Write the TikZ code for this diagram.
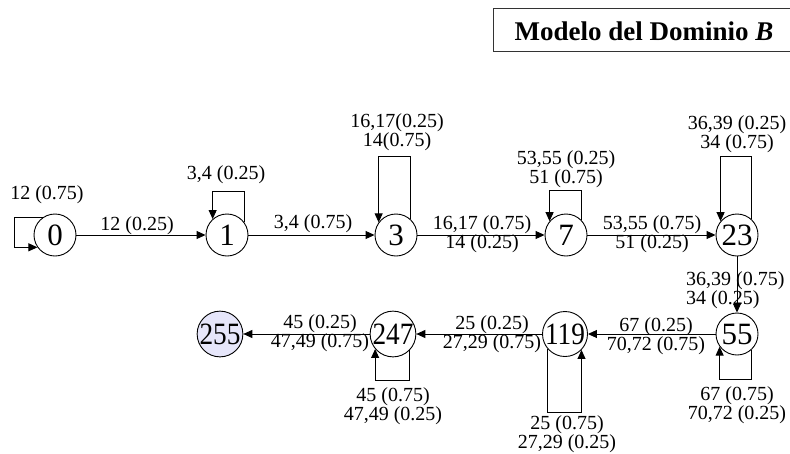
\documentclass[tikz,border=0pt]{standalone}
\usepackage{fontspec}
\setmainfont{Liberation Serif}
\usetikzlibrary{arrows.meta,calc}
\definecolor{finalfill}{RGB}{230,230,250}
\tikzset{
  st/.style={circle,draw,line width=0.9pt,minimum size=42pt,inner sep=0pt,font=\fontsize{31}{31}\selectfont},
  lbl/.style={font=\fontsize{20}{18}\selectfont,align=center,inner sep=0pt},
  arr/.style={line width=0.9pt,-{Triangle[length=9pt,width=8pt]}},
  titlebox/.style={line width=1pt,draw=black!80}
}
\begin{document}
\begin{tikzpicture}[x=1pt,y=-1pt]
\useasboundingbox (0,0) rectangle (790,453);
% title
\draw[titlebox] (493,8) rectangle (800,51);
\node[font=\fontsize{27}{27}\selectfont\bfseries,inner sep=0pt] (title) at (644,31) {Modelo del Dominio \textit{B}};
% states
\node[st] (n0) at (55,235) {0};
\node[st] (n1) at (227,235) {1};
\node[st] (n3) at (396,235) {3};
\node[st] (n7) at (566,235) {7};
\node[st] (n23) at (737,235) {23};
\node[st] (n55) at (737,334) {55};
\node[st] (n119) at (565,334) {\scalebox{0.88}[1]{119}};
\node[st] (n247) at (393,334) {\scalebox{0.88}[1]{247}};
\node[st,fill=finalfill] (n255) at (220,334) {\scalebox{0.88}[1]{255}};
% transitions
\draw[arr] (n0) -- (n1);
\draw[arr] (n1) -- (n3);
\draw[arr] (n3) -- (n7);
\draw[arr] (n7) -- (n23);
\draw[arr] (n23) -- (n55);
\draw[arr] (n55) -- (n119);
\draw[arr] (n119) -- (n247);
\draw[arr] (n247) -- (n255);
% self loops
\draw[arr] (n0.125) -- ++(-28,0) |- (n0.215);
\draw[arr] (n1.36) -- ++(0,-31) -| (n1.132);
\draw[arr] (n3.48) -- ++(0,-63) -| (n3.144);
\draw[arr] (n7.44) -- ++(0,-30) -| (n7.140);
\draw[arr] (n23.48) -- ++(0,-63) -| (n23.140);
\draw[arr] (n55.312) -- ++(0,29.5) -| (n55.216);
\draw[arr] (n119.220) -- ++(0,63.5) -| (n119.316);
\draw[arr] (n247.316) -- ++(0,30.3) -| (n247.220);
% labels
\node[lbl] (l00) at (47,195) {12 (0.75)};
\node[lbl] (l01) at (137,226) {12 (0.25)};
\node[lbl] (l11) at (226,175) {3,4 (0.25)};
\node[lbl] (l13) at (313,224) {3,4 (0.75)};
\node[lbl] (l33) at (397,132) {16,17(0.25)\\14(0.75)};
\node[lbl] (l37) at (482,234) {16,17 (0.75)\\14 (0.25)};
\node[lbl] (l77) at (566,169) {53,55 (0.25)\\51 (0.75)};
\node[lbl] (l723) at (652,234) {53,55 (0.75)\\51 (0.25)};
\node[lbl] (l2323) at (737,134) {36,39 (0.25)\\34 (0.75)};
\node[lbl,align=left,anchor=west] (l2355) at (686,290) {36,39 (0.75)\\34 (0.25)};
\node[lbl] (l5555) at (737,405) {67 (0.75)\\70,72 (0.25)};
\node[lbl] (l55119) at (656,336) {67 (0.25)\\70,72 (0.75)};
\node[lbl] (l119119) at (567,434) {25 (0.75)\\27,29 (0.25)};
\node[lbl] (l119247) at (492,334) {25 (0.25)\\27,29 (0.75)};
\node[lbl] (l247247) at (393,406) {45 (0.75)\\47,49 (0.25)};
\node[lbl] (l247255) at (320,333) {45 (0.25)\\47,49 (0.75)};
\end{tikzpicture}
\end{document}
